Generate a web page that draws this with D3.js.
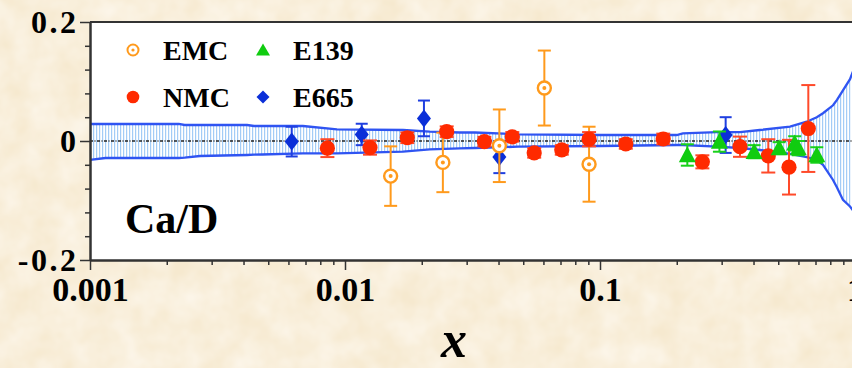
<!DOCTYPE html>
<html>
<head>
<meta charset="utf-8">
<script src="https://cdn.jsdelivr.net/npm/d3@7"></script>
<style>
  html, body { margin: 0; padding: 0; background: #f7ecd6; overflow: hidden; }
  svg { display: block; }
</style>
</head>
<body>
<svg id="chart" width="852" height="368"></svg>
<script>
// ---- axis ticks ----
const xTickValues = [0.001, 0.01, 0.1, 1];
const xTickLabels = ["0.001", "0.01", "0.1", "1"];
const yTickValues = [-0.2, 0, 0.2];
const yTickLabels = ["-0.2", "0", "0.2"];

// ---- EMC (open circles) ----
const emcX   = [0.0151, 0.0242, 0.0403, 0.0605, 0.0906];
const emcY   = [-0.059, -0.036, -0.008, 0.089, -0.039];
const emcErr = [0.050, 0.050, 0.061, 0.063, 0.063];

// ---- NMC (filled circles) ----
const nmcX   = [0.00853, 0.01253, 0.01755, 0.02505, 0.0352, 0.0453, 0.0552, 0.0708,
                0.0906, 0.1262, 0.177, 0.252, 0.354, 0.457, 0.551, 0.656];
const nmcY   = [-0.012, -0.011, 0.0055, 0.0156, -0.001, 0.007, -0.020, -0.015,
                0.003, -0.005, 0.0034, -0.035, -0.0096, -0.025, -0.044, 0.021];
const nmcErr = [0.015, 0.012, 0.009, 0.009, 0.008, 0.008, 0.008, 0.008,
                0.012, 0.008, 0.009, 0.011, 0.017, 0.028, 0.046, 0.073];

// ---- E139 (triangles) ----
const e139X   = [0.220, 0.294, 0.402, 0.504, 0.580, 0.599, 0.708];
const e139Y   = [-0.0235, -0.001, -0.018, -0.012, -0.004, -0.012, -0.0235];
const e139Err = [0.018, 0.017, 0.011, 0.010, 0.012, 0.012, 0.013];

// ---- E665 (diamonds) ----
const e665X   = [0.00618, 0.01163, 0.0204, 0.0403, 0.311];
const e665Y   = [-0.001, 0.011, 0.038, -0.027, 0.010];
const e665Err = [0.025, 0.018, 0.030, 0.027, 0.030];

// ---- uncertainty band of the fit ----
const bandX  = [0.001, 0.00115, 0.00223, 0.00235, 0.0027, 0.00413, 0.0044, 0.00473, 0.00684,
                0.0093, 0.0169, 0.0215, 0.0282, 0.0323, 0.0477, 0.1, 0.2, 0.2113, 0.2875,
                0.354, 0.4235, 0.556, 0.647, 0.708, 0.749, 0.82, 0.85, 0.897, 0.956, 0.98, 1.0];
const bandHi = [0.0286, 0.0286, 0.0286, 0.0269, 0.0269, 0.0269, 0.0252, 0.0252, 0.0252,
                0.0197, 0.0185, 0.0156, 0.0143, 0.0143, 0.0113, 0.0101, 0.0101, 0.0129, 0.0150,
                0.0150, 0.0185, 0.0240, 0.0324, 0.040, 0.0466, 0.060, 0.069, 0.085, 0.104, 0.116, 0.123];
const bandLo = [-0.0319, -0.0286, -0.0286, -0.0280, -0.0252, -0.0235, -0.0230, -0.0227, -0.0207,
                -0.0207, -0.0180, -0.0140, -0.0123, -0.0118, -0.0096, -0.0084, -0.0067, -0.0067, -0.0096,
                -0.0118, -0.0151, -0.0218, -0.0270, -0.032, -0.040, -0.0655, -0.078, -0.099, -0.110, -0.116, -0.125];

const W = 852, H = 368;
const plot = { left: 90, right: 855, top: 22, bottom: 260 };
const SERIF = "'Liberation Serif', 'Times New Roman', serif";

const svg = d3.select("#chart");
const x = d3.scaleLog().domain([0.001, 1]).range([plot.left, plot.right]);
const y = d3.scaleLinear().domain([-0.2, 0.2]).range([plot.bottom, plot.top]);

const defs = svg.append("defs");

// parchment grain
const grain = defs.append("filter").attr("id", "grain")
  .attr("x", 0).attr("y", 0).attr("width", "100%").attr("height", "100%");
grain.append("feTurbulence").attr("type", "fractalNoise")
  .attr("baseFrequency", "0.035").attr("numOctaves", 3).attr("seed", 7);
grain.append("feColorMatrix").attr("type", "matrix")
  .attr("values", "0 0 0 0 1  0 0 0 0 0.97  0 0 0 0 0.92  0 0 0 -0.9 0.75");

// vertical hatching inside the band
const hatch = defs.append("pattern").attr("id", "hatch")
  .attr("patternUnits", "userSpaceOnUse").attr("width", 3).attr("height", 10);
hatch.append("rect").attr("width", 3).attr("height", 10).attr("fill", "#ffffff");
hatch.append("rect").attr("x", 0).attr("width", 1.2).attr("height", 10).attr("fill", "#a3ccf6");

defs.append("clipPath").attr("id", "plotClip").append("rect")
  .attr("x", plot.left).attr("y", plot.top)
  .attr("width", plot.right - plot.left).attr("height", plot.bottom - plot.top);

// background
svg.append("rect").attr("width", W).attr("height", H).attr("fill", "#f6e9cf");
svg.append("rect").attr("width", W).attr("height", H).attr("filter", "url(#grain)");

// plot area
svg.append("rect")
  .attr("x", plot.left).attr("y", plot.top)
  .attr("width", plot.right - plot.left).attr("height", plot.bottom - plot.top)
  .attr("fill", "#ffffff");

const g = svg.append("g").attr("clip-path", "url(#plotClip)");

// band
const band = bandX.map((v, i) => ({ x: v, hi: bandHi[i], lo: bandLo[i] }));
g.append("path").datum(band)
  .attr("d", d3.area().x(d => x(d.x)).y0(d => y(d.lo)).y1(d => y(d.hi)))
  .attr("fill", "url(#hatch)");
[d => d.hi, d => d.lo].forEach(acc => {
  g.append("path").datum(band)
    .attr("d", d3.line().x(d => x(d.x)).y(d => y(acc(d))))
    .attr("fill", "none").attr("stroke", "#2f54f2").attr("stroke-width", 2.3);
});

// zero line
g.append("line")
  .attr("x1", plot.left).attr("x2", plot.right)
  .attr("y1", y(0)).attr("y2", y(0))
  .attr("stroke", "#222").attr("stroke-width", 1.3)
  .attr("stroke-dasharray", "3,1.5,1,1.5");

// ---- axes ----
const axisColor = "#333";
const xAxisMinor = d3.axisBottom(x)
  .tickValues(x.ticks().filter(t => !xTickValues.includes(t)))
  .tickSize(5).tickSizeOuter(0).tickFormat("");
const xAxisMajor = d3.axisBottom(x)
  .tickValues(xTickValues).tickSize(10).tickSizeOuter(0).tickPadding(7)
  .tickFormat((d, i) => xTickLabels[i]);
const yMinorValues = d3.range(-4, 5).map(k => k * 0.04).filter(v => Math.abs(v) > 1e-9 && Math.abs(v) < 0.199);
const yAxisMinor = d3.axisLeft(y).tickValues(yMinorValues).tickSize(5).tickSizeOuter(0).tickFormat("");
const yAxisMajor = d3.axisLeft(y)
  .tickValues(yTickValues).tickSize(10).tickSizeOuter(0).tickPadding(4)
  .tickFormat((d, i) => yTickLabels[i]);

function styleAxis(sel, fontSize, spacing) {
  sel.selectAll("path.domain").attr("stroke", axisColor).attr("stroke-width", 2);
  sel.selectAll(".tick line").attr("stroke", axisColor).attr("stroke-width", 1.5);
  sel.selectAll(".tick text")
    .attr("fill", "#000").style("font-family", SERIF).style("font-weight", "bold")
    .style("font-size", fontSize + "px").style("letter-spacing", spacing + "px");
}
const gx = svg.append("g").attr("transform", `translate(0,${plot.bottom})`);
gx.append("g").call(xAxisMinor).call(s => styleAxis(s, 34, 0));
gx.append("g").call(xAxisMajor).call(s => styleAxis(s, 34, 0));
const gy = svg.append("g").attr("transform", `translate(${plot.left},0)`);
gy.append("g").call(yAxisMinor).call(s => styleAxis(s, 32, 0));
gy.append("g").call(yAxisMajor).call(s => styleAxis(s, 32, 2.5));
gy.selectAll(".tick text").attr("dx", "2.5px");

// top frame
svg.append("line")
  .attr("x1", plot.left).attr("x2", plot.right)
  .attr("y1", plot.top).attr("y2", plot.top)
  .attr("stroke", axisColor).attr("stroke-width", 2);

// ---- marker shapes ----
const circleShape = r => ({ draw(c) { c.moveTo(r, 0); c.arc(0, 0, r, 0, 2 * Math.PI); } });
const triangleShape = (w, h) => ({ draw(c) {
  c.moveTo(0, -h * 0.55); c.lineTo(w / 2, h * 0.45); c.lineTo(-w / 2, h * 0.45); c.closePath();
} });
const diamondShape = (w, h) => ({ draw(c) {
  c.moveTo(0, -h / 2); c.lineTo(w / 2, 0); c.lineTo(0, h / 2); c.lineTo(-w / 2, 0); c.closePath();
} });

const series = [
  { name: "EMC",  xs: emcX,  ys: emcY,  es: emcErr,  bar: "#ff9a1c", cap: 13, kind: "open" },
  { name: "NMC",  xs: nmcX,  ys: nmcY,  es: nmcErr,  bar: "#ff4a2a", cap: 14, kind: "dot",
    color: "#ff2a00", shape: circleShape(7.6) },
  { name: "E665", xs: e665X, ys: e665Y, es: e665Err, bar: "#1f3fe0", cap: 12, kind: "fill",
    color: "#0b2fd8", shape: diamondShape(14, 18) },
  { name: "E139", xs: e139X, ys: e139Y, es: e139Err, bar: "#19d11b", cap: 13, kind: "fill",
    color: "#10cc10", shape: triangleShape(17, 16) },
];

const drawOrder = ["E665", "EMC", "NMC", "E139"];
drawOrder.forEach(name => {
  const s = series.find(d => d.name === name);
  const pts = s.xs.map((v, i) => ({ x: v, y: s.ys[i], e: s.es[i] }));
  const sg = g.append("g");
  const eb = sg.selectAll("g.eb").data(pts).join("g").attr("class", "eb")
    .attr("stroke", s.bar).attr("stroke-width", 2).attr("fill", "none");
  eb.append("line").attr("x1", d => x(d.x)).attr("x2", d => x(d.x))
    .attr("y1", d => y(d.y - d.e)).attr("y2", d => y(d.y + d.e));
  [1, -1].forEach(sign => {
    eb.append("line")
      .attr("x1", d => x(d.x) - s.cap / 2).attr("x2", d => x(d.x) + s.cap / 2)
      .attr("y1", d => y(d.y + sign * d.e)).attr("y2", d => y(d.y + sign * d.e));
  });
  if (s.kind === "open") {
    sg.selectAll("circle.o").data(pts).join("circle").attr("class", "o")
      .attr("cx", d => x(d.x)).attr("cy", d => y(d.y)).attr("r", 6.5)
      .attr("fill", "#fff").attr("stroke", s.bar).attr("stroke-width", 2.4);
    sg.selectAll("circle.c").data(pts).join("circle").attr("class", "c")
      .attr("cx", d => x(d.x)).attr("cy", d => y(d.y)).attr("r", 2).attr("fill", s.bar);
  } else {
    sg.selectAll("path.m").data(pts).join("path").attr("class", "m")
      .attr("transform", d => `translate(${x(d.x)},${y(d.y)})`)
      .attr("d", d3.symbol().type(s.shape)())
      .attr("fill", s.color);
  }
});

// ---- legend ----
const legend = svg.append("g");
const legendItems = [
  { name: "EMC",  sx: 133, sy: 50 },
  { name: "E139", sx: 263, sy: 50 },
  { name: "NMC",  sx: 133, sy: 97 },
  { name: "E665", sx: 263, sy: 97 },
];
legendItems.forEach(it => {
  const s = series.find(d => d.name === it.name);
  if (s.kind === "open") {
    legend.append("circle").attr("cx", it.sx).attr("cy", it.sy).attr("r", 5.5)
      .attr("fill", "#fff").attr("stroke", s.bar).attr("stroke-width", 2);
    legend.append("circle").attr("cx", it.sx).attr("cy", it.sy).attr("r", 1.6).attr("fill", s.bar);
  } else {
    const shp = it.name === "NMC" ? circleShape(6.3)
              : it.name === "E665" ? diamondShape(13, 13) : triangleShape(14, 12);
    legend.append("path").attr("transform", `translate(${it.sx},${it.sy})`)
      .attr("d", d3.symbol().type(shp)()).attr("fill", s.color);
  }
  legend.append("text")
    .attr("x", it.sx + 30).attr("y", it.sy + 10)
    .style("font-family", SERIF).style("font-weight", "bold").style("font-size", "28px")
    .attr("fill", "#000").text(it.name);
});

// ratio label
svg.append("text").attr("x", 125).attr("y", 233)
  .style("font-family", SERIF).style("font-weight", "bold").style("font-size", "42px")
  .attr("fill", "#000").text("Ca/D");

// axis title
svg.append("text").attr("x", 454).attr("y", 357).attr("text-anchor", "middle")
  .style("font-family", SERIF).style("font-weight", "bold").style("font-style", "italic")
  .style("font-size", "52px").attr("fill", "#000").text("x");
</script>
</body>
</html>
